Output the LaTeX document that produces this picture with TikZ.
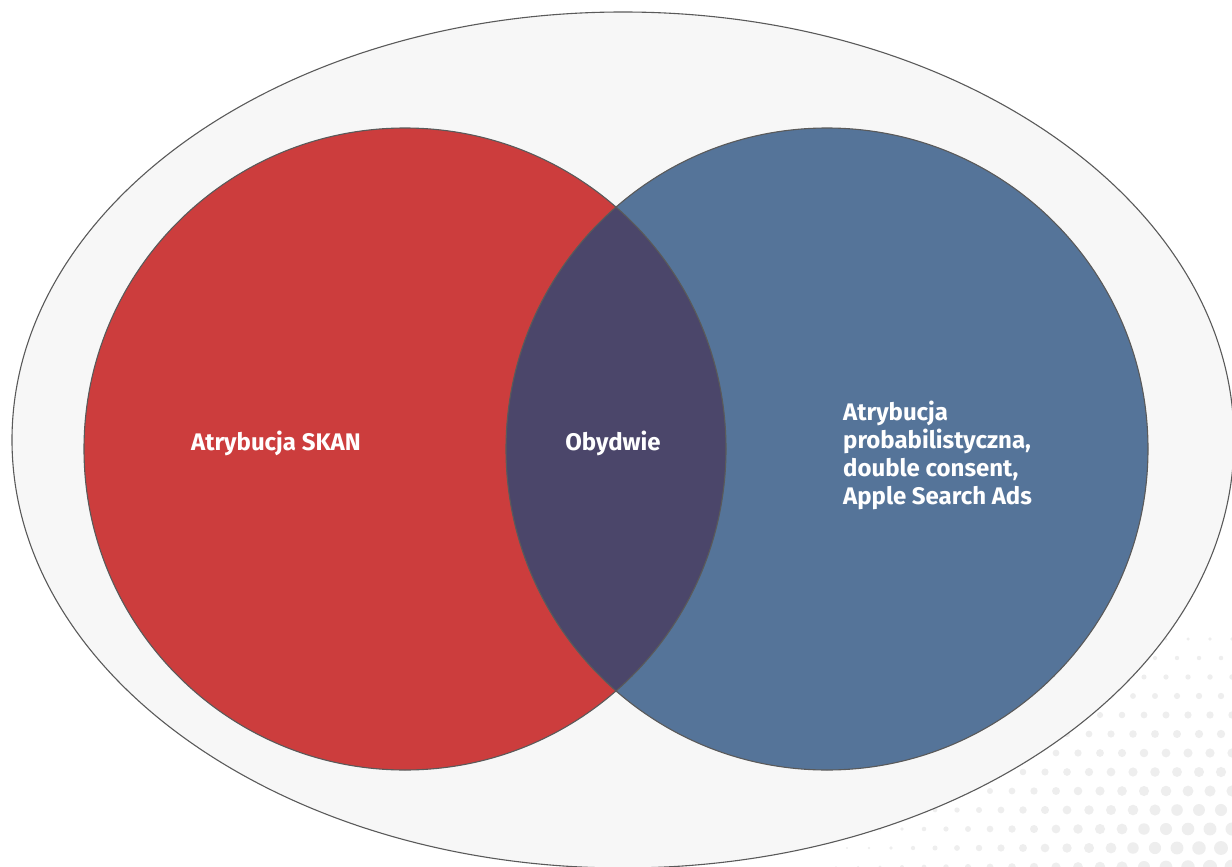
\documentclass[tikz,border=0pt]{standalone}
\usepackage{fontspec}
\setsansfont{Fira Sans}
\definecolor{skanred}{HTML}{CC3D3D}
\definecolor{probblue}{HTML}{557499}
\definecolor{bothpurple}{HTML}{4B466A}
\definecolor{framefill}{HTML}{F7F7F7}
\definecolor{edgegray}{HTML}{5A5A5A}
\definecolor{dotgray}{HTML}{EEEEEE}
\begin{document}
\begin{tikzpicture}[x=1pt,y=-1pt,
    outline/.style={draw=edgegray,line width=1.1pt},
    settext/.style={text=white,inner sep=0pt,
      font=\sffamily\bfseries\fontsize{24}{28}\selectfont}]
  \useasboundingbox (0,0) rectangle (1232,867);
  \clip (0,0) rectangle (1232,867);
  \coordinate (mid) at (623,440);
  \coordinate (left) at (405,449);
  \coordinate (right) at (827,449);
  % halftone dots in the lower right corner
  \foreach \i in {0,...,24}
    \foreach \j in {0,...,12} {
      \pgfmathsetmacro\px{1232-\i*22-mod(\j,2)*11}
      \pgfmathsetmacro\py{867-\j*19}
      \pgfmathsetmacro\r{7.5-sqrt(((1232-\px)/60)^2+((867-\py)/40)^2)}
      \ifdim\r pt>0.6pt
        \fill[dotgray] (\px,\py) circle[radius=\r];
      \fi
    }
  % outer set
  \draw[outline,fill=framefill] (mid) ellipse[x radius=611,y radius=428];
  % the two sets and their overlap
  \fill[skanred] (left) circle[radius=321];
  \fill[probblue] (right) circle[radius=321];
  \begin{scope}
    \clip (left) circle[radius=321];
    \fill[bothpurple] (right) circle[radius=321];
  \end{scope}
  \draw[outline] (left) circle[radius=321];
  \draw[outline] (right) circle[radius=321];
  \node[settext,anchor=west] (skan) at (191,443) {Atrybucja SKAN};
  \node[settext] (both) at (613,443) {Obydwie};
  \node[settext,anchor=west,align=left] (prob) at (843,455)
    {Atrybucja\\probabilistyczna,\\double consent,\\Apple Search Ads};
\end{tikzpicture}
\end{document}
